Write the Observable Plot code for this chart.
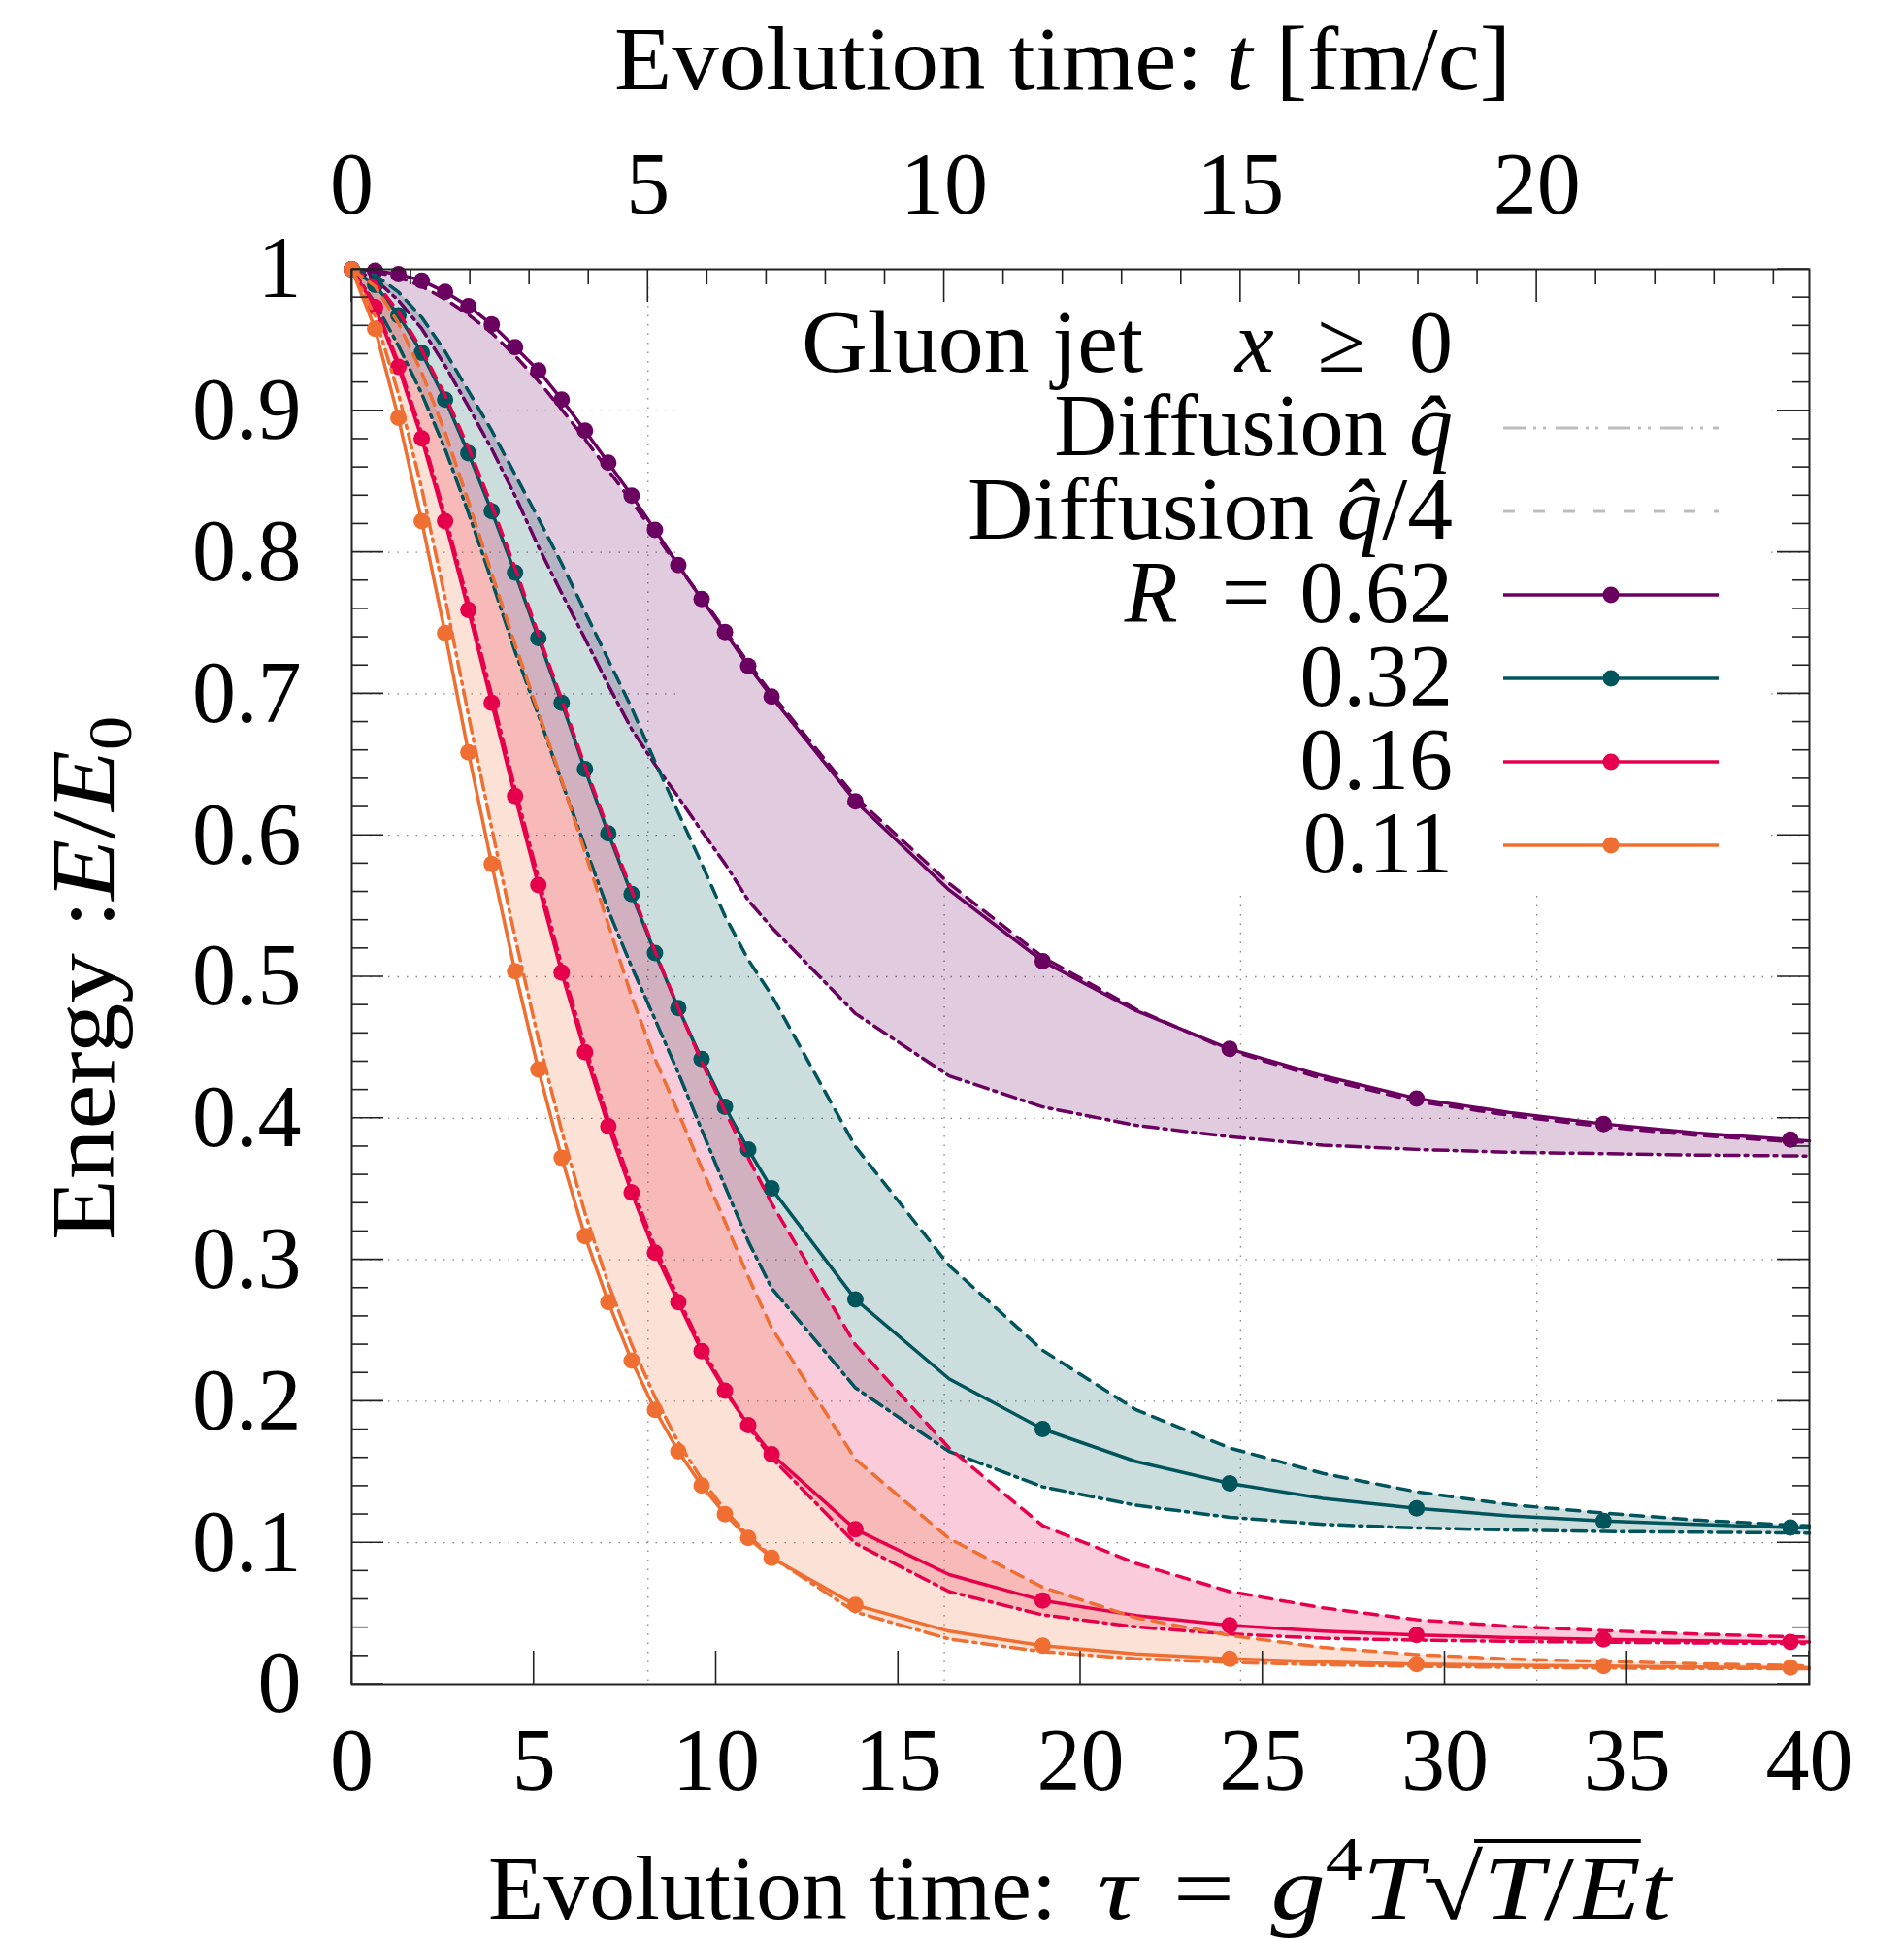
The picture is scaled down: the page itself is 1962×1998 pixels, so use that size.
<!DOCTYPE html>
<html><head><meta charset="utf-8">
<script src="https://cdn.jsdelivr.net/npm/d3@7"></script>
<script src="https://cdn.jsdelivr.net/npm/@observablehq/plot@0.6"></script>
<style>html,body{margin:0;padding:0;background:#fff;} svg{display:block;}</style>
</head><body><div id="chart"></div>
<script>
(function(){
// ---------------- data ----------------
const tau = [0,0.64,1.28,1.92,2.56,3.20,3.84,4.48,5.12,5.76,6.40,7.04,7.68,8.32,8.96,9.60,10.24,10.88,11.52,
             13.82,16.39,18.96,21.52,24.09,26.65,29.22,31.78,34.35,36.92,39.48,40];
const markerTau = [0,0.64,1.28,1.92,2.56,3.20,3.84,4.48,5.12,5.76,6.40,7.04,7.68,8.32,8.96,9.60,10.24,10.88,11.52,
                   13.82,18.96,24.09,29.22,34.35,39.48];

const sim_062   = [1,0.999,0.9965,0.992,0.984,0.974,0.961,0.945,0.9285,0.908,0.886,0.8633,0.840,0.8158,0.791,0.767,0.7437,0.7197,0.698,
                   0.624,0.5614,0.511,0.476,0.449,0.430,0.414,0.404,0.396,0.3895,0.385,0.384];
const qhat4_062 = [1,0.998,0.9945,0.988,0.979,0.968,0.955,0.939,0.921,0.901,0.880,0.858,0.836,0.813,0.790,0.768,0.745,0.722,0.700,
                   0.627,0.566,0.514,0.477,0.448,0.428,0.412,0.402,0.394,0.388,0.3835,0.383];
const qhat_062  = [1,0.993,0.978,0.958,0.932,0.903,0.873,0.840,0.804,0.771,0.739,0.706,0.675,0.650,0.627,0.603,0.580,0.554,0.535,
                   0.474,0.430,0.408,0.395,0.387,0.381,0.378,0.376,0.375,0.374,0.3735,0.3733];

const sim_032   = [1,0.989,0.9675,0.941,0.908,0.870,0.829,0.7856,0.7394,0.6936,0.6467,0.6014,0.5584,0.5168,0.4779,0.4419,0.4081,0.3779,0.3504,
                   0.272,0.2159,0.1804,0.1574,0.142,0.1313,0.1243,0.119,0.1154,0.113,0.1108,0.1105];
const qhat4_032 = [1,0.996,0.984,0.966,0.942,0.914,0.886,0.855,0.824,0.792,0.758,0.724,0.690,0.652,0.616,0.580,0.543,0.512,0.487,
                   0.380,0.296,0.236,0.194,0.167,0.149,0.136,0.127,0.121,0.116,0.1125,0.112];
const qhat_032  = [1,0.976,0.946,0.912,0.873,0.828,0.780,0.730,0.685,0.638,0.592,0.547,0.507,0.470,0.432,0.392,0.352,0.313,0.280,
                   0.2095,0.1645,0.1395,0.1265,0.118,0.113,0.1105,0.109,0.108,0.1075,0.107,0.1068];

const sim_016   = [1,0.9732,0.931,0.8805,0.822,0.7593,0.6936,0.6277,0.5648,0.503,0.4466,0.3944,0.3475,0.3051,0.2700,0.2354,0.2075,0.1832,0.1626,
                   0.1095,0.0775,0.0592,0.0486,0.0416,0.0375,0.0348,0.033,0.0317,0.0307,0.0299,0.0298];
const qhat_016  = [1,0.975,0.934,0.884,0.826,0.764,0.699,0.633,0.570,0.508,0.451,0.399,0.352,0.309,0.273,0.238,0.209,0.182,0.160,
                   0.0995,0.0655,0.049,0.0405,0.0355,0.0325,0.0312,0.0303,0.0297,0.0292,0.0288,0.0287];
const qhat4_016 = [1,0.991,0.970,0.943,0.911,0.874,0.833,0.789,0.742,0.696,0.649,0.604,0.561,0.518,0.478,0.440,0.405,0.372,0.340,
                   0.240,0.167,0.112,0.0854,0.0655,0.054,0.0456,0.041,0.0379,0.0355,0.0336,0.0333];

const sim_011   = [1,0.958,0.895,0.822,0.743,0.6586,0.5797,0.504,0.4345,0.372,0.3167,0.270,0.2287,0.194,0.1646,0.1405,0.1202,0.1034,0.0894,
                   0.056,0.0375,0.0272,0.0215,0.018,0.0158,0.0143,0.0134,0.0128,0.0122,0.0118,0.0117];
const qhat_011  = [1,0.967,0.912,0.845,0.768,0.685,0.605,0.528,0.456,0.391,0.333,0.283,0.240,0.203,0.171,0.145,0.123,0.105,0.090,
                   0.051,0.032,0.023,0.018,0.0155,0.0138,0.0127,0.012,0.0115,0.0112,0.011,0.011];
const qhat4_011 = [1,0.988,0.962,0.927,0.885,0.836,0.785,0.735,0.687,0.639,0.588,0.537,0.486,0.442,0.404,0.365,0.327,0.288,0.252,
                   0.159,0.103,0.0685,0.047,0.0345,0.026,0.021,0.0178,0.0162,0.0145,0.0132,0.013];

const seriesNames = ["0.62","0.32","0.16","0.11"];
const seriesColors = ["#6a005f","#00545b","#e6004c","#ef6e32"];
const simSets = [sim_062, sim_032, sim_016, sim_011];
const qhatSets = [qhat_062, qhat_032, qhat_016, qhat_011];
const qhat4Sets = [qhat4_062, qhat4_032, qhat4_016, qhat4_011];

const yTicks = [0,0.1,0.2,0.3,0.4,0.5,0.6,0.7,0.8,0.9,1];
const yTickLabels = ["0","0.1","0.2","0.3","0.4","0.5","0.6","0.7","0.8","0.9","1"];
const xTicks = [0,5,10,15,20,25,30,35,40];
const tTicks = [0,5,10,15,20];
const tauPerT = 1.626;           // top axis: t [fm/c] -> tau
const yGrid = [0.1,0.2,0.3,0.4,0.5,0.6,0.7,0.8,0.9];
const tGrid = [5,10,15,20];

// ---------------- layout ----------------
const W = 1962, H = 1998;
const mL = 362, mR = 98, mT = 277, mB = 263;
const FONT = "'Liberation Serif', 'Times New Roman', serif";
const DASH = "13,9";
const DASHDOT = "15,6,3,6";
const LW = 3.5, DOT_R = 8.5;
const EN = "\u2002", TS = "\u2004";

const rows = [];
seriesNames.forEach((name, s) => tau.forEach((t, i) => rows.push({
  series: name, tau: t, sim: simSets[s][i], qhat: qhatSets[s][i], qhat4: qhat4Sets[s][i],
  marker: markerTau.includes(t)
})));
const rowsOf = name => rows.filter(r => r.series === name);

// white legend box under the curves (hides grid lines)
const legendBox = (index, scales, values, dims) =>
  d3.create("svg:rect").attr("x", 697).attr("y", dims.marginTop)
    .attr("width", 1819 - 697).attr("height", 918 - dims.marginTop).attr("fill", "#fff").node();

// inward ticks on all four sides (positions from the scales)
const inwardTicks = (index, scales, values, dims) => {
  const x = scales.x, y = scales.y;
  const g = d3.create("svg:g").attr("stroke", "#222").attr("stroke-width", 1.6);
  const L = dims.marginLeft, R = dims.width - dims.marginRight, T = dims.marginTop, B = dims.height - dims.marginBottom;
  for (let k = 0; k <= 50; k++) {
    const v = k / 50, yy = y(v), len = (k % 5 === 0) ? 33 : 17;
    g.append("line").attr("x1", L).attr("x2", L + len).attr("y1", yy).attr("y2", yy);
    g.append("line").attr("x1", R).attr("x2", R - len).attr("y1", yy).attr("y2", yy);
  }
  for (const v of xTicks) {
    const xx = x(v);
    g.append("line").attr("x1", xx).attr("x2", xx).attr("y1", B).attr("y2", B - 34);
  }
  for (let t = 0; t <= 24; t++) {
    const xx = x(t * tauPerT), len = (t % 5 === 0) ? 34 : 16;
    g.append("line").attr("x1", xx).attr("x2", xx).attr("y1", T).attr("y2", T + len);
  }
  return g.node();
};

// legend drawn on top
const legend = () => {
  const g = d3.create("svg:g").attr("font-family", FONT).attr("font-size", 90).attr("fill", "#000");
  const right = 1497, x1 = 1549, x2 = 1771, xm = 1660;
  const rowY = [355, 441, 527, 613, 699, 785, 871];
  const base = 28;
  g.append("text").attr("x", 1178).attr("y", rowY[0] + base).attr("text-anchor", "end")
    .attr("textLength", 352).attr("lengthAdjust", "spacingAndGlyphs").text("Gluon jet");
  const t0 = g.append("text").attr("x", right).attr("y", rowY[0] + base).attr("text-anchor", "end");
  t0.append("tspan").attr("font-style", "italic").text("x");
  t0.append("tspan").text(EN + "\u2265" + EN + "0");
  const t1 = g.append("text").attr("x", right).attr("y", rowY[1] + base).attr("text-anchor", "end");
  t1.append("tspan").text("Diffusion ");
  t1.append("tspan").attr("font-style", "italic").text("q\u0302");
  g.append("line").attr("x1", x1).attr("x2", x2).attr("y1", rowY[1]).attr("y2", rowY[1])
    .attr("stroke", "#bdbdbd").attr("stroke-width", 3).attr("stroke-dasharray", "23,8,3,7,3,10");
  const t2 = g.append("text").attr("x", right).attr("y", rowY[2] + base).attr("text-anchor", "end")
    .attr("textLength", 500).attr("lengthAdjust", "spacingAndGlyphs");
  t2.append("tspan").text("Diffusion ");
  t2.append("tspan").attr("font-style", "italic").text("q\u0302");
  t2.append("tspan").text("/4");
  g.append("line").attr("x1", x1).attr("x2", x2).attr("y1", rowY[2]).attr("y2", rowY[2])
    .attr("stroke", "#bdbdbd").attr("stroke-width", 3).attr("stroke-dasharray", "12,19");
  seriesNames.forEach((name, s) => {
    const yy = rowY[3 + s];
    const t = g.append("text").attr("x", right).attr("y", yy + base).attr("text-anchor", "end");
    if (s === 0) {
      t.append("tspan").attr("font-style", "italic").text("R");
      t.append("tspan").text(EN + "=" + TS + name);
    } else t.text(name);
    g.append("line").attr("x1", x1).attr("x2", x2).attr("y1", yy).attr("y2", yy)
      .attr("stroke", seriesColors[s]).attr("stroke-width", LW);
    g.append("circle").attr("cx", xm).attr("cy", yy).attr("r", DOT_R).attr("fill", seriesColors[s]);
  });
  return g.node();
};

const marks = [
  Plot.gridY(yGrid, {stroke: "#777", strokeOpacity: 0.9, strokeWidth: 1.3, strokeDasharray: "1.5,8"}),
  Plot.gridX(tGrid.map(t => t * tauPerT), {stroke: "#777", strokeOpacity: 0.9, strokeWidth: 1.3, strokeDasharray: "1.5,8"}),
  legendBox
];
seriesNames.forEach((name, s) => {
  marks.push(Plot.areaY(rowsOf(name), {x: "tau", y1: "qhat", y2: "qhat4", fill: seriesColors[s], fillOpacity: 0.2}));
});
seriesNames.forEach((name, s) => {
  const d = rowsOf(name), c = seriesColors[s];
  marks.push(Plot.line(d, {x: "tau", y: "qhat", stroke: c, strokeWidth: LW, strokeDasharray: DASHDOT}));
  marks.push(Plot.line(d, {x: "tau", y: "qhat4", stroke: c, strokeWidth: LW, strokeDasharray: DASH}));
  marks.push(Plot.line(d, {x: "tau", y: "sim", stroke: c, strokeWidth: LW}));
  marks.push(Plot.dot(d.filter(r => r.marker), {x: "tau", y: "sim", r: DOT_R, fill: c, stroke: "none"}));
});
marks.push(
  inwardTicks,
  Plot.frame({stroke: "#222", strokeWidth: 2}),
  Plot.axisY(yTicks, {anchor: "left", tickSize: 0, tickPadding: 52, label: null, fontSize: 90,
    tickFormat: d => yTickLabels[yTicks.indexOf(d)]}),
  Plot.axisX(xTicks, {anchor: "bottom", tickSize: 0, tickPadding: 45, label: null, fontSize: 90, tickFormat: d => String(d)}),
  Plot.axisX(tTicks.map(t => t * tauPerT), {anchor: "top", tickSize: 0, tickPadding: 58, label: null, fontSize: 90,
    tickFormat: d => String(Math.round(d / tauPerT))}),
  legend
);

const chart = Plot.plot({
  width: W, height: H,
  marginLeft: mL, marginRight: mR, marginTop: mT, marginBottom: mB,
  x: {domain: [0, 40]},
  y: {domain: [0, 1]},
  style: {fontFamily: FONT, background: "#fff", color: "#000"},
  marks
});
document.getElementById("chart").append(chart);

// ---------------- axis titles ----------------
const svg = d3.select(chart);
const titles = svg.append("g").attr("font-family", FONT).attr("font-size", 94).attr("fill", "#000");

const topTitle = titles.append("text").attr("x", 1095).attr("y", 92).attr("text-anchor", "middle")
  .attr("textLength", 924).attr("lengthAdjust", "spacingAndGlyphs");
topTitle.append("tspan").text("Evolution time: ");
topTitle.append("tspan").attr("font-style", "italic").text("t");
topTitle.append("tspan").text(" [fm/c]");

// bottom title: words + math part
titles.append("text").attr("x", 503).attr("y", 1977).attr("text-anchor", "start")
  .attr("textLength", 586).attr("lengthAdjust", "spacingAndGlyphs").text("Evolution time:");
const bot = titles.append("text").attr("x", 1131).attr("y", 1977).attr("text-anchor", "start")
  .attr("textLength", 591).attr("lengthAdjust", "spacingAndGlyphs");
bot.append("tspan").attr("font-style", "italic").text("\u03C4");
bot.append("tspan").text(TS + "=" + TS);
bot.append("tspan").attr("font-style", "italic").text("g");
bot.append("tspan").attr("font-size", 64).attr("dy", -40).text("4");
bot.append("tspan").attr("font-style", "italic").attr("dy", 40).text("T");
bot.append("tspan").text("\u221A");
bot.append("tspan").attr("font-style", "italic").text("T");
bot.append("tspan").text("/");
bot.append("tspan").attr("font-style", "italic").text("E");
bot.append("tspan").attr("font-style", "italic").text("t");
try {
  const node = bot.node();
  const i0 = 8; // index of "T" under the root
  const a = node.getExtentOfChar(i0 - 1), b = node.getExtentOfChar(i0 + 2);
  titles.append("line").attr("x1", a.x + a.width * 0.85).attr("x2", b.x + b.width)
    .attr("y1", a.y + 4).attr("y2", a.y + 4).attr("stroke", "#000").attr("stroke-width", 4);
} catch (e) {}

const yl = titles.append("text").attr("transform", "translate(117,1008) rotate(-90)").attr("text-anchor", "middle")
  .attr("textLength", 540).attr("lengthAdjust", "spacingAndGlyphs");
yl.append("tspan").text("Energy :");
yl.append("tspan").attr("font-style", "italic").text("E");
yl.append("tspan").text("/");
yl.append("tspan").attr("font-style", "italic").text("E");
yl.append("tspan").attr("font-size", 64).attr("dy", 18).text("0");
})();
</script>
</body></html>
